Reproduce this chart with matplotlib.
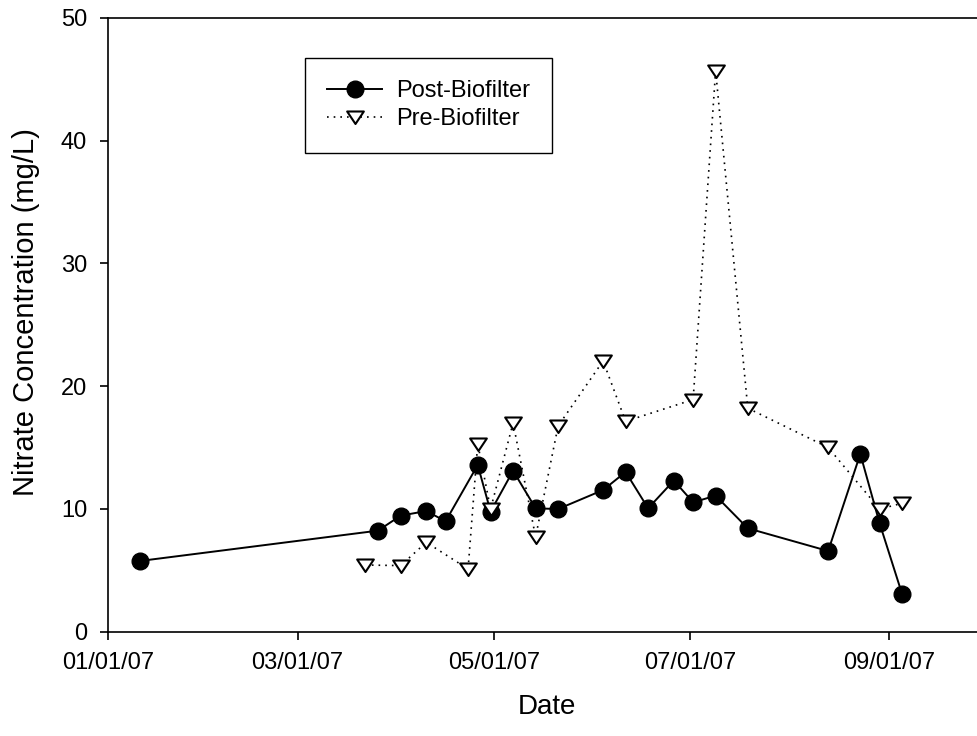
import matplotlib
matplotlib.use("Agg")
import matplotlib.pyplot as plt
import matplotlib.dates as mdates
from matplotlib.path import Path
from datetime import datetime

plt.rcParams['font.family'] = ['Liberation Sans', 'DejaVu Sans']

post_dates = ["2007-01-11", "2007-03-26", "2007-04-02", "2007-04-10", "2007-04-16",
              "2007-04-26", "2007-04-30", "2007-05-07", "2007-05-14", "2007-05-21",
              "2007-06-04", "2007-06-11", "2007-06-18", "2007-06-26", "2007-07-02",
              "2007-07-09", "2007-07-19", "2007-08-13", "2007-08-23", "2007-08-29",
              "2007-09-05"]
post_values = [5.75, 8.22, 9.44, 9.82, 8.98,
               13.57, 9.77, 13.1, 10.04, 9.98,
               11.53, 13.0, 10.04, 12.3, 10.53,
               11.07, 8.41, 6.56, 14.47, 8.82,
               3.05]

pre_dates = ["2007-03-22", "2007-04-02", "2007-04-10", "2007-04-23", "2007-04-26",
             "2007-04-30", "2007-05-07", "2007-05-14", "2007-05-21", "2007-06-04",
             "2007-06-11", "2007-07-02", "2007-07-09", "2007-07-19", "2007-08-13",
             "2007-08-29", "2007-09-05"]
pre_values = [5.42, 5.37, 7.27, 5.09, 15.3,
              9.98, 17.0, 7.7, 16.75, 22.05,
              17.13, 18.9, 45.7, 18.2, 15.0,
              9.98, 10.45]

x_start = "2007-01-01"
x_end = "2007-10-01"
y_ticks = [0, 10, 20, 30, 40, 50]

def to_dt(lst):
    return [datetime.strptime(s, "%Y-%m-%d") for s in lst]

W, H = 977, 736
fig = plt.figure(figsize=(W / 100, H / 100), dpi=100)
left, bottom, top = 108 / W, (H - 631.5) / H, (H - 18) / H
right_px = 985.7
ax = fig.add_axes([left, bottom, (right_px - 108) / W, top - bottom])

tri = Path([(-1, 0.72), (1, 0.72), (0, -0.78), (-1, 0.72)],
           [Path.MOVETO, Path.LINETO, Path.LINETO, Path.CLOSEPOLY])

ax.plot(to_dt(post_dates), post_values, color='black', lw=1.4, marker='o',
        markersize=12, markerfacecolor='black', markeredgecolor='black',
        label='Post-Biofilter', zorder=3, clip_on=False)
ax.plot(to_dt(pre_dates), pre_values, color='black', lw=1.2, linestyle=(0, (1, 3)),
        marker=tri, markersize=12, markerfacecolor='white', markeredgecolor='black',
        markeredgewidth=1.5, label='Pre-Biofilter', zorder=4, clip_on=False)

ax.set_xlim(datetime.strptime(x_start, "%Y-%m-%d"), datetime.strptime(x_end, "%Y-%m-%d"))
ax.set_ylim(0, 50)
ax.set_yticks(y_ticks)
ax.xaxis.set_major_locator(mdates.MonthLocator(bymonth=[1, 3, 5, 7, 9, 11]))
ax.xaxis.set_major_formatter(mdates.DateFormatter("%m/%d/%y"))

for s in ax.spines.values():
    s.set_linewidth(1.2)
ax.tick_params(axis='both', direction='out', length=6, width=1.2, labelsize=17)
ax.tick_params(axis='x', pad=9)
ax.tick_params(axis='y', pad=9)

ax.set_xlabel("Date", fontsize=20, labelpad=14)
ax.set_ylabel("Nitrate Concentration (mg/L)", fontsize=21, labelpad=15)
ax.yaxis.label.set_y(0.52)

leg = fig.legend(loc='upper left', bbox_to_anchor=(305 / W, 1 - 58 / H),
                 bbox_transform=fig.transFigure, fontsize=17, frameon=True,
                 fancybox=False, framealpha=1, edgecolor='black',
                 handlelength=2.3, handletextpad=0.6, borderpad=0.95,
                 labelspacing=0.25, borderaxespad=0)
leg.get_frame().set_linewidth(1.0)

fig.savefig("out.png", dpi=100)
